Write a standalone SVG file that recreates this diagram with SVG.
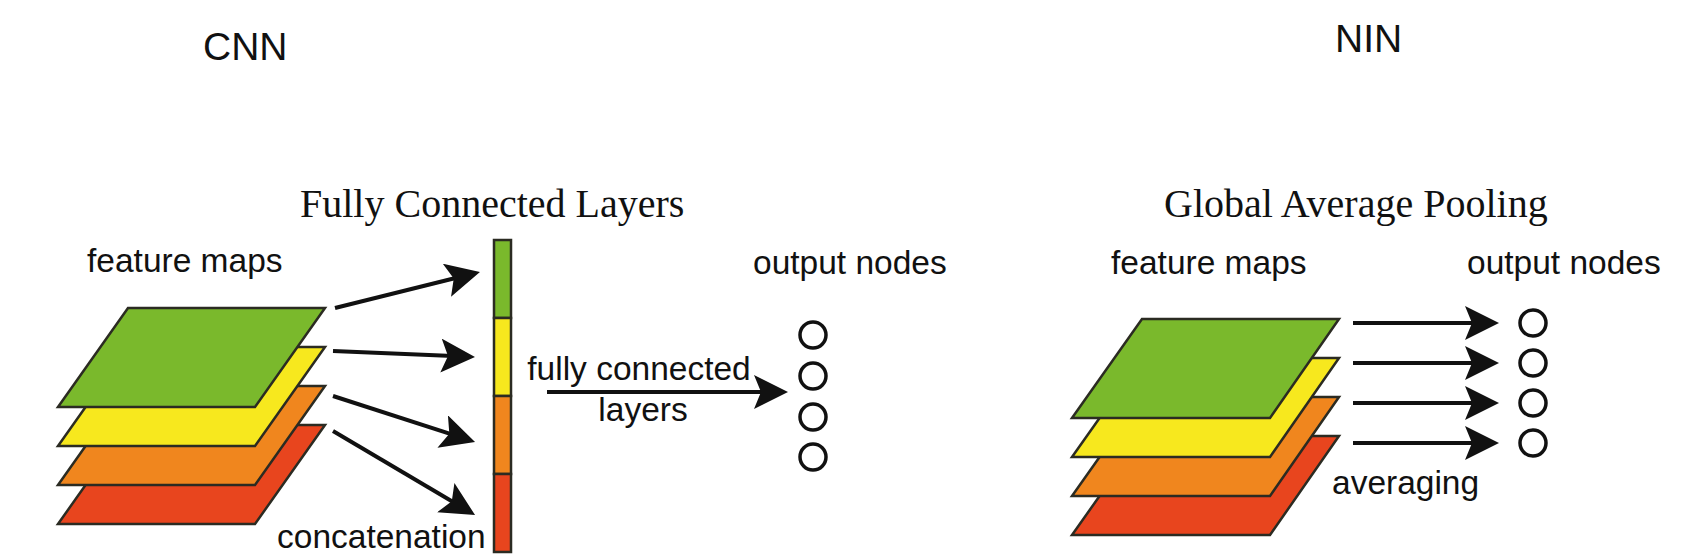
<svg xmlns="http://www.w3.org/2000/svg" width="1704" height="558" viewBox="0 0 1704 558">
  <style>
    .sans { font-family: "Liberation Sans", Arial, sans-serif; fill: #111111; }
    .serif { font-family: "Liberation Serif", "Times New Roman", serif; fill: #111111; font-size: 40px; }
    .lbl { font-size: 33.5px; }
    .head { font-size: 39px; }
    .layer { stroke: #2b2b22; stroke-width: 2.5; stroke-linejoin: miter; }
    .g { fill: #7ab92c; }
    .y { fill: #f7e81e; }
    .o { fill: #f0861e; }
    .r { fill: #e8451e; }
    .node { fill: #ffffff; stroke: #111111; stroke-width: 3.5; }
    .arrow { stroke: #111111; stroke-width: 4; fill: none; marker-end: url(#ah); }
  </style>
  <defs>
    <marker id="ah" markerUnits="userSpaceOnUse" viewBox="0 0 34 34" markerWidth="34" markerHeight="34" refX="12" refY="17" orient="auto">
      <path d="M0,0 L34,17 L0,34 L7,17 Z" fill="#111111"/>
    </marker>
  </defs>

  <rect x="0" y="0" width="1704" height="558" fill="#ffffff"/>

  <g id="title-cnn"><text class="sans head" x="203" y="60">CNN</text></g>
  <g id="title-nin"><text class="sans head" x="1335" y="52">NIN</text></g>

  <!-- CNN side -->
  <g id="fc-title"><text class="serif" x="300" y="217">Fully Connected Layers</text></g>
  <g id="cnn-feature-label"><text class="sans lbl" x="87" y="272">feature maps</text></g>
  <g id="cnn-output-label"><text class="sans lbl" x="753" y="274">output nodes</text></g>

  <g id="cnn-feature-maps">
    <polygon class="layer r" points="128,425 325,425 255,524 58,524"/>
    <polygon class="layer o" points="128,386 325,386 255,485 58,485"/>
    <polygon class="layer y" points="128,347 325,347 255,446 58,446"/>
    <polygon class="layer g" points="128,308 325,308 255,407 58,407"/>
  </g>

  <g id="concat-vector">
    <rect class="layer g" x="494" y="240" width="17" height="78"/>
    <rect class="layer y" x="494" y="318" width="17" height="78"/>
    <rect class="layer o" x="494" y="396" width="17" height="78"/>
    <rect class="layer r" x="494" y="474" width="17" height="78"/>
  </g>
  <g id="concat-label"><text class="sans lbl" x="277" y="548">concatenation</text></g>

  <g id="fc-label">
    <text class="sans lbl" x="639" y="380" text-anchor="middle">fully connected</text>
    <text class="sans lbl" x="643" y="421" text-anchor="middle">layers</text>
  </g>

  <g id="cnn-output-nodes">
    <circle class="node" cx="813" cy="335" r="13"/>
    <circle class="node" cx="813" cy="376" r="13"/>
    <circle class="node" cx="813" cy="417" r="13"/>
    <circle class="node" cx="813" cy="457" r="13"/>
  </g>

  <!-- NIN side -->
  <g id="gap-title"><text class="serif" x="1164" y="217">Global Average Pooling</text></g>
  <g id="nin-feature-label"><text class="sans lbl" x="1111" y="274">feature maps</text></g>
  <g id="nin-output-label"><text class="sans lbl" x="1467" y="274">output nodes</text></g>

  <g id="nin-feature-maps">
    <polygon class="layer r" points="1142,436 1339,436 1270,535 1072,535"/>
    <polygon class="layer o" points="1142,397 1339,397 1270,496 1072,496"/>
    <polygon class="layer y" points="1142,358 1339,358 1270,457 1072,457"/>
    <polygon class="layer g" points="1142,319 1339,319 1270,418 1072,418"/>
  </g>
  <g id="averaging-label"><text class="sans lbl" x="1332" y="494">averaging</text></g>

  <g id="nin-output-nodes">
    <circle class="node" cx="1533" cy="323" r="13"/>
    <circle class="node" cx="1533" cy="363" r="13"/>
    <circle class="node" cx="1533" cy="403" r="13"/>
    <circle class="node" cx="1533" cy="443" r="13"/>
  </g>

  <g id="connectors">
    <line class="arrow" x1="335" y1="308" x2="458.6" y2="277.3"/>
    <line class="arrow" x1="333" y1="351" x2="453.0" y2="356.1"/>
    <line class="arrow" x1="333" y1="396" x2="454.1" y2="435.2"/>
    <line class="arrow" x1="333" y1="431" x2="456.1" y2="503.8"/>
    <line class="arrow" x1="547" y1="392" x2="766" y2="392"/>
    <line class="arrow" x1="1353" y1="323" x2="1477" y2="323"/>
    <line class="arrow" x1="1353" y1="363" x2="1477" y2="363"/>
    <line class="arrow" x1="1353" y1="403" x2="1477" y2="403"/>
    <line class="arrow" x1="1353" y1="443" x2="1477" y2="443"/>
  </g>
</svg>
